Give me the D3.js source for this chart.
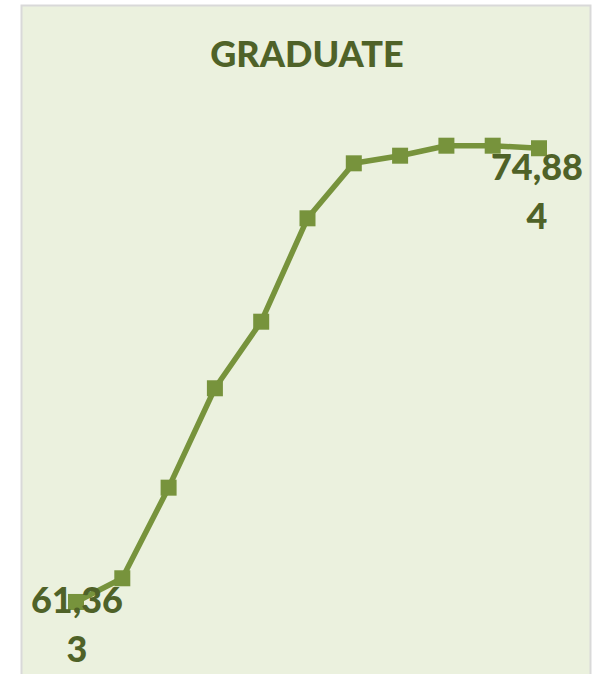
<!DOCTYPE html>
<html>
<head>
<meta charset="utf-8">
<script src="https://cdn.jsdelivr.net/npm/d3@7"></script>
<style>
  html, body { margin: 0; padding: 0; background: #ffffff; }
  svg { display: block; }
</style>
</head>
<body>
<svg id="chart" width="593" height="674"></svg>
<script>
const title = "GRADUATE";
const categories = ["1", "2", "3", "4", "5", "6", "7", "8", "9", "10", "11"];
const values = [61363, 62069, 64769, 67731, 69715, 72796, 74435, 74662, 74960, 74960, 74884];
const labelledIdx = [0, 10];

const svg = d3.select("#chart");

// chart area box
svg.append("rect")
  .attr("x", 21.5).attr("y", 5.5)
  .attr("width", 569).attr("height", 700)
  .attr("fill", "#EBF1DE")
  .attr("stroke", "#D9D9D9")
  .attr("stroke-width", 2);

svg.append("text")
  .attr("x", 307).attr("y", 67)
  .attr("text-anchor", "middle")
  .attr("font-family", "Lato, 'Open Sans', sans-serif")
  .attr("font-weight", 900)
  .attr("font-size", 36)
  .attr("fill", "#4F6228")
  .text(title);

const x = d3.scalePoint().domain(categories).range([76, 539]);
const y = d3.scaleLinear().domain([60000, 76000]).range([647.7, 110.8]);

const line = d3.line()
  .x((d, i) => x(categories[i]))
  .y(d => y(d));

svg.append("path")
  .datum(values)
  .attr("d", line)
  .attr("fill", "none")
  .attr("stroke", "#77933C")
  .attr("stroke-width", 5.5)
  .attr("stroke-linejoin", "round");

const ms = 16;
svg.selectAll("rect.marker")
  .data(values)
  .enter().append("rect")
  .attr("class", "marker")
  .attr("x", (d, i) => x(categories[i]) - ms / 2)
  .attr("y", d => y(d) - ms / 2)
  .attr("width", ms).attr("height", ms)
  .attr("fill", "#77933C");

const fmt = d3.format(",");
const labelOffsets = { 0: 11, 10: 32 };
labelledIdx.forEach(i => {
  const s = fmt(values[i]);
  const lines = [s.slice(0, 5), s.slice(5)];
  const t = svg.append("text")
    .attr("text-anchor", "middle")
    .attr("font-family", "Lato, 'Open Sans', sans-serif")
    .attr("font-weight", 900)
    .attr("font-size", 36)
    .attr("fill", "#4F6228");
  lines.forEach((ln, k) => {
    t.append("tspan")
      .attr("x", x(categories[i]) + (i === 10 ? -2 : 1))
      .attr("y", y(values[i]) + labelOffsets[i] + k * 49)
      .text(ln);
  });
});
</script>
</body>
</html>
